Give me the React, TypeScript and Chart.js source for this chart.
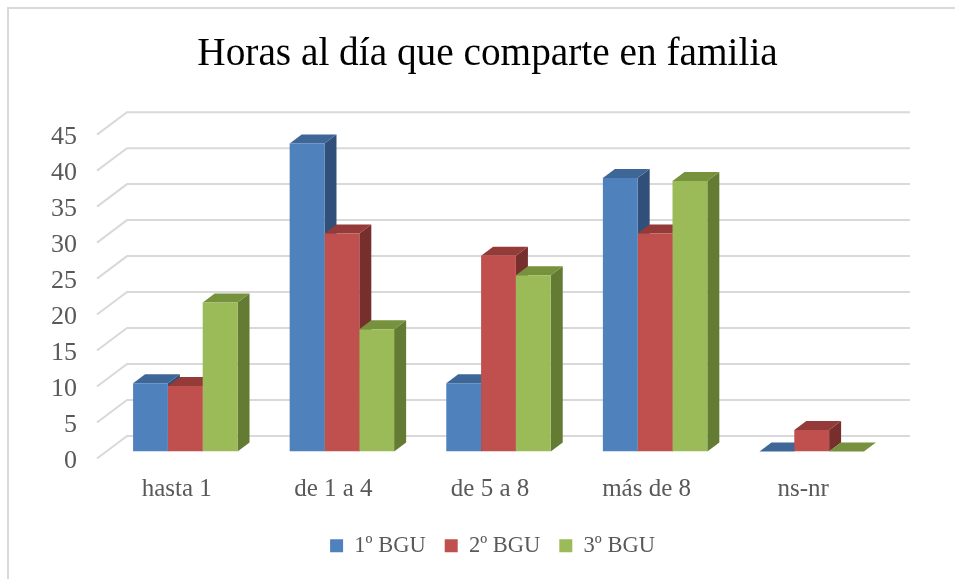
import React, { useEffect, useRef } from "react";
import { Chart, registerables } from "chart.js";

Chart.register(...registerables);

const categories = ["hasta 1", "de 1 a 4", "de 5 a 8", "más de 8", "ns-nr"];
const bgu1 = [9.5, 42.8, 9.5, 38, 0];
const bgu2 = [9.1, 30.3, 27.2, 30.3, 3];
const bgu3 = [20.7, 17, 24.5, 37.6, 0];

const FONT = "'Liberation Serif'";
const DX = 12;
const DY = 9;

const faces = [
  { top: "#3E6797", side: "#30507A" },
  { top: "#943B39", side: "#772F2D" },
  { top: "#76923C", side: "#637B33" },
];

const depthPlugin = {
  id: "depth",
  afterLayout(chart: any) {
    chart.legend.left += 5;
    chart.legend.right += 5;
    chart.scales.y.left = 0;
  },
  beforeDraw(chart: any) {
    const { ctx, width, height } = chart;
    ctx.save();
    ctx.strokeStyle = "#D9D9D9";
    ctx.lineWidth = 2;
    ctx.beginPath();
    ctx.moveTo(8, height);
    ctx.lineTo(8, 8);
    ctx.lineTo(width, 8);
    ctx.stroke();
    ctx.restore();
  },
  beforeDatasetsDraw(chart: any) {
    const { ctx, scales } = chart;
    const y = scales.y;
    ctx.save();
    ctx.strokeStyle = "#D9D9D9";
    ctx.lineWidth = 2;
    y.ticks.forEach((t: any) => {
      const p = y.getPixelForValue(t.value);
      ctx.beginPath();
      ctx.moveTo(chart.chartArea.left - 10, p + 7);
      ctx.lineTo(chart.chartArea.left + 20, p - 15.5);
      ctx.lineTo(chart.chartArea.right + 20, p - 15.5);
      ctx.stroke();
    });
    chart.data.datasets.forEach((_: any, i: number) => {
      chart.getDatasetMeta(i).data.forEach((bar: any) => {
        const x0 = bar.x - bar.width / 2;
        const x1 = bar.x + bar.width / 2;
        const yt = bar.y;
        const yb = bar.base;
        ctx.fillStyle = faces[i].side;
        ctx.beginPath();
        ctx.moveTo(x1, yt);
        ctx.lineTo(x1 + DX, yt - DY);
        ctx.lineTo(x1 + DX, yb - DY);
        ctx.lineTo(x1, yb);
        ctx.closePath();
        ctx.fill();
        ctx.fillStyle = faces[i].top;
        ctx.beginPath();
        ctx.moveTo(x0, yt);
        ctx.lineTo(x0 + DX, yt - DY);
        ctx.lineTo(x1 + DX, yt - DY);
        ctx.lineTo(x1, yt);
        ctx.closePath();
        ctx.fill();
      });
    });
    ctx.restore();
  },
};

export default function App() {
  const ref = useRef<HTMLCanvasElement>(null);
  useEffect(() => {
    const chart = new Chart(ref.current!, {
      type: "bar",
      data: {
        labels: categories,
        datasets: [
          { label: "1º BGU", data: bgu1, backgroundColor: "#4F81BD" },
          { label: "2º BGU", data: bgu2, backgroundColor: "#C0504D" },
          { label: "3º BGU", data: bgu3, backgroundColor: "#9BBB59" },
        ],
      },
      plugins: [depthPlugin],
      options: {
        animation: false,
        responsive: false,
        events: [],
        layout: { padding: { left: 85, right: 65, top: 0, bottom: 12 } },
        datasets: { bar: { categoryPercentage: 0.667, barPercentage: 1 } },
        scales: {
          x: {
            grid: { display: false },
            border: { display: false },
            ticks: {
              color: "#595959",
              font: { family: FONT, size: 25 },
              padding: 15,
              labelOffset: -8.5,
              maxRotation: 0,
            },
            afterFit(s: any) {
              s.height = 64;
            },
          },
          y: {
            min: 0,
            max: 45,
            grid: { display: false },
            border: { display: false },
            ticks: {
              stepSize: 5,
              color: "#595959",
              font: { family: FONT, size: 26 },
              padding: 22,
              labelOffset: 9.5,
            },
            afterFit(s: any) {
              s.width = 22;
            },
          },
        },
        plugins: {
          tooltip: { enabled: false },
          title: {
            display: true,
            text: "Horas al día que comparte en familia",
            color: "#000000",
            font: { family: FONT, size: 39.3, weight: "normal" },
            padding: { top: 31.5, bottom: 49 },
          },
          legend: {
            position: "bottom",
            labels: {
              color: "#595959",
              font: { family: FONT, size: 22.5 },
              boxWidth: 13,
              boxHeight: 13,
              padding: 19,
            },
          },
        },
      },
    } as any);
    return () => chart.destroy();
  }, []);
  return (
    <div style={{ position: "absolute", left: 0, top: 0, width: 955, height: 579 }}>
      <canvas ref={ref} width={955} height={579} style={{ display: "block" }} />
    </div>
  );
}
